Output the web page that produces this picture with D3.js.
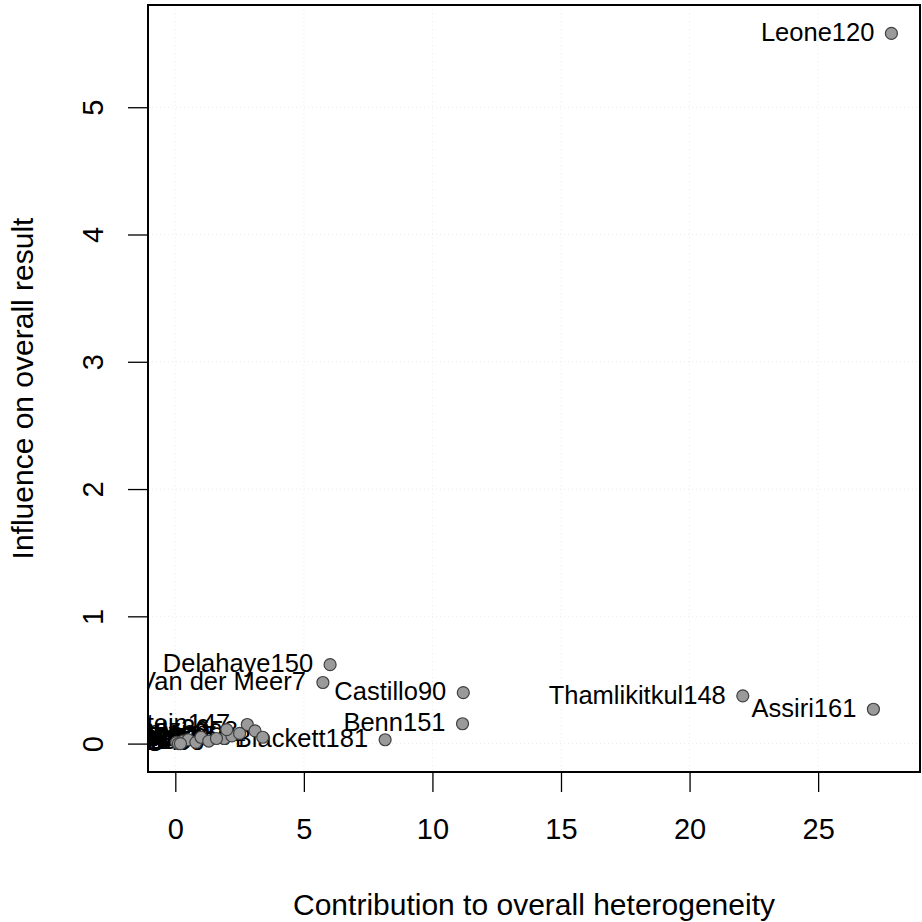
<!DOCTYPE html>
<meta charset="utf-8">
<style>
body { margin: 0; background: #fff; }
svg { font-family: "Liberation Sans", Arial, sans-serif; }
.pt { fill: #9a9a9a; stroke: #404040; stroke-width: 1.2; }
.lab { font-size: 25.5px; fill: #000; text-anchor: end; }
.grid line { stroke: #ececec; stroke-dasharray: 1,3; }
</style>
<body>
<svg width="922" height="922"></svg>
<script src="https://cdn.jsdelivr.net/npm/d3@7"></script>
<script>

// Baujat plot: studies, x = contribution to heterogeneity, y = influence on result
var studies = ["Leone120", "Assiri161", "Thamlikitkul148", "Castillo90", "Benn151",
  "Delahaye150", "Van der Meer7", "Blackett181",
  "Goldstein147", "Kaplan958", "Harris68", "Moore12", "Stone33", "Wong41",
  "Ito88", "Singh104", "Kim23", "Ruiz55", "Park79", "Vega16", "Lopez30", "Diggs9",
  "Briggs64", "Nunez36"];
var contribution = [27.85, 27.15, 22.07, 11.2, 11.17,
  6.02, 5.74, 8.16,
  2.8, 3.1, 1.9, 0.05, 0.12, 0.3, 0.5, 0.8, 1.0, 1.3, 1.6, 2.2, 2.5, 0.2,
  3.4, 2.0];
var influence = [5.58, 0.27, 0.375, 0.40, 0.156,
  0.62, 0.48, 0.03,
  0.15, 0.10, 0.04, 0.01, 0.00, 0.02, 0.03, 0.01, 0.05, 0.02, 0.04, 0.06, 0.08, 0.0,
  0.05, 0.11];
var xTicks = [0, 5, 10, 15, 20, 25];
var yTicks = [0, 1, 2, 3, 4, 5];

var svg = d3.select("svg"),
    margin = {top: 5, right: 2, bottom: 150, left: 148},
    width = +svg.attr("width") - margin.left - margin.right,
    height = +svg.attr("height") - margin.top - margin.bottom;

// R style 4% extension of the data range
function ext(v) {
  var lo = d3.min(v), hi = d3.max(v), d = (hi - lo) * 0.04;
  return [lo - d, hi + d];
}

var x = d3.scaleLinear().domain(ext(contribution)).range([0, width]),
    y = d3.scaleLinear().domain(ext(influence)).range([height, 0]);

var g = svg.append("g")
    .attr("transform", "translate(" + margin.left + "," + margin.top + ")");

g.append("clipPath").attr("id", "clip")
  .append("rect").attr("width", width).attr("height", height);

// faint dotted grid
var grid = g.append("g").attr("class", "grid").attr("clip-path", "url(#clip)");
grid.selectAll(".gx").data(xTicks).enter().append("line")
    .attr("x1", d => x(d)).attr("x2", d => x(d))
    .attr("y1", 0).attr("y2", height);
grid.selectAll(".gy").data(yTicks).enter().append("line")
    .attr("y1", d => y(d)).attr("y2", d => y(d))
    .attr("x1", 0).attr("x2", width);

// axes
var xAxis = g.append("g")
    .attr("transform", "translate(0," + height + ")")
    .call(d3.axisBottom(x).tickValues(xTicks).tickFormat(d3.format("d"))
      .tickSize(20).tickPadding(26));
var yAxis = g.append("g")
    .call(d3.axisLeft(y).tickValues(yTicks).tickFormat(d3.format("d"))
      .tickSize(20).tickPadding(0));

[xAxis, yAxis].forEach(function(a) {
  a.select(".domain").remove();
  a.selectAll(".tick line").attr("stroke", "#000").attr("stroke-width", 1.3);
  a.selectAll("text").style("font-size", "29px")
    .style("font-family", "'Liberation Sans', Arial, sans-serif").attr("fill", "#000");
});
yAxis.selectAll(".tick text")
    .attr("x", 0).attr("dy", null)
    .attr("transform", "translate(-55,0) rotate(-90)")
    .style("text-anchor", "middle")
    .attr("dominant-baseline", "central");

// points and labels
var idx = d3.range(studies.length);
var plot = g.append("g").attr("clip-path", "url(#clip)");

plot.selectAll(".lab")
  .data(idx)
  .enter().append("text")
    .attr("class", "lab")
    .attr("x", i => x(contribution[i]) - 17)
    .attr("y", i => y(influence[i]))
    .attr("dy", "0.3em")
    .text(i => studies[i]);

plot.selectAll(".pt")
  .data(idx)
  .enter().append("circle")
    .attr("class", "pt")
    .attr("r", 6)
    .attr("cx", i => x(contribution[i]))
    .attr("cy", i => y(influence[i]));

// box
g.append("rect")
    .attr("width", width).attr("height", height)
    .attr("fill", "none").attr("stroke", "#000").attr("stroke-width", 2);

// axis titles
svg.append("text")
    .attr("x", margin.left + width / 2)
    .attr("y", 915)
    .style("text-anchor", "middle")
    .style("font-size", "30px")
    .text("Contribution to overall heterogeneity");

svg.append("text")
    .attr("transform", "translate(33," + (margin.top + height / 2) + ") rotate(-90)")
    .style("text-anchor", "middle")
    .style("font-size", "30px")
    .text("Influence on overall result");

</script>
